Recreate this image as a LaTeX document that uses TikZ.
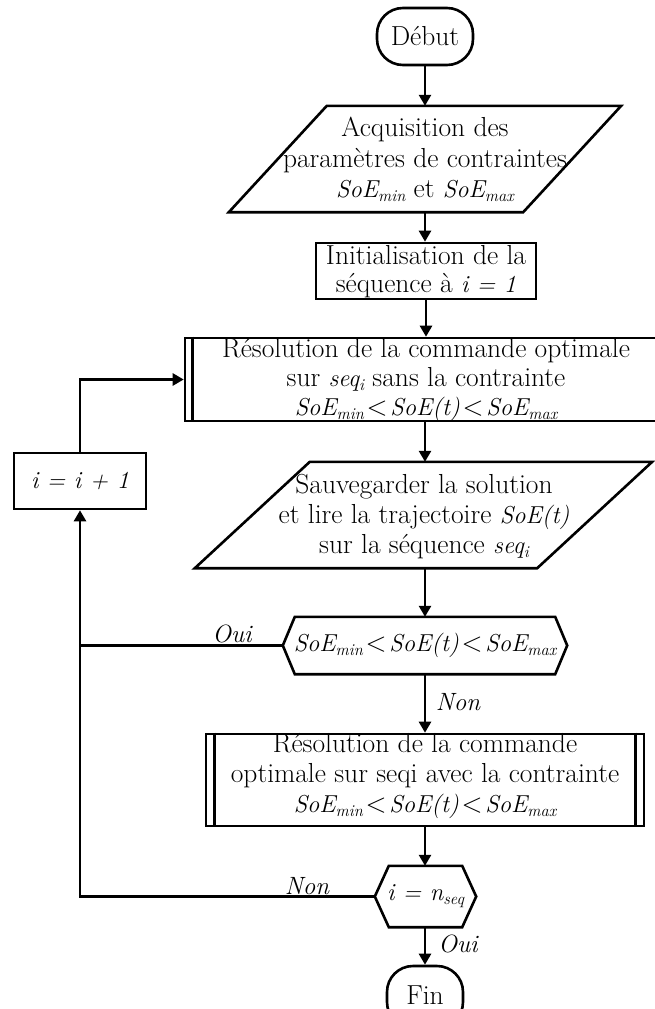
\documentclass[tikz,border=0pt]{standalone}
\usetikzlibrary{arrows.meta,calc}
\newcommand\fm[1]{{\fontsize{24.5}{24.5}\selectfont\itshape #1}}
\newcommand\sbs[1]{\raisebox{-4pt}{\fontsize{16.5}{16.5}\selectfont\itshape #1}}
\newcommand\LT{\hspace{0.1em}<\hspace{0.1em}}
\newcommand\SoEmin{\fm{SoE}\sbs{min}}
\newcommand\SoEmax{\fm{SoE}\sbs{max}}
\tikzset{
  ln/.style={line width=2.6pt},
  arr/.style={ln,-{Triangle[length=11pt,width=12pt]}},
  shp/.style={draw,line width=2.6pt,inner sep=0pt},
  anc/.style={inner sep=0pt},
  txt/.style={align=center,inner sep=0pt},
  lbl/.style={inner sep=0pt,anchor=base,font=\fontsize{25}{30}\selectfont\itshape},
}
\begin{document}
\begin{tikzpicture}[x=1pt,y=-1pt,font=\fontsize{27.5}{30}\selectfont]
\fill[white] (0,0) rectangle (655,1009);
\useasboundingbox (0,0) rectangle (655,1009);

% Debut
\node[shp,rounded corners=26pt,minimum width=96pt,minimum height=57pt] (debut) at (425,36.5) {Début};

% Parallelogram 1
\node[anc,minimum width=392pt,minimum height=106pt] (p1) at (425,159) {};
\draw[ln] (p1.south west) -- ($(p1.north west)+(98,0)$) -- (p1.north east) -- ($(p1.south east)-(98,0)$) -- cycle;
\node[txt,font=\fontsize{27.5}{30.5}\selectfont] (p1t) at (425,159.7) {Acquisition des\\paramètres de contraintes\\\SoEmin{} et \SoEmax};

% Init
\node[shp,minimum width=220pt,minimum height=56pt] (init) at (426,271) {};
\node[txt,font=\fontsize{27.5}{28}\selectfont] (initt) at (426,272.1) {Initialisation de la\\séquence à \fm{i = 1}};

% Resolution 1
\node[shp,minimum width=480pt,minimum height=83pt] (r1) at (425,379.5) {};
\draw[ln] ($(r1.north west)+(9,0)$) -- ($(r1.south west)+(9,0)$);
\draw[ln] ($(r1.north east)-(9,0)$) -- ($(r1.south east)-(9,0)$);
\node[txt,font=\fontsize{27.5}{29}\selectfont] (r1t) at (426,380.2) {Résolution de la commande optimale\\sur \fm{seq}\sbs{i} sans la contrainte\\\SoEmin\LT\fm{SoE(t)}\LT\SoEmax};

% i = i + 1
\node[shp,minimum width=132pt,minimum height=56pt] (inc) at (80,481) {\fm{i = i + 1}};

% Parallelogram 2
\node[anc,minimum width=457pt,minimum height=106pt] (p2) at (423.5,515) {};
\draw[ln] (p2.south west) -- ($(p2.north west)+(115,0)$) -- (p2.north east) -- ($(p2.south east)-(115,0)$) -- cycle;
\node[txt,font=\fontsize{27.5}{30}\selectfont] (p2t) at (424,516.1) {Sauvegarder la solution\\et lire la trajectoire \fm{SoE(t)}\\sur la séquence \fm{seq}\sbs{i}};

% Hexagon 1
\node[anc,minimum width=284pt,minimum height=57pt] (h1) at (425,645.5) {\SoEmin\LT\fm{SoE(t)}\LT\SoEmax};
\draw[ln] (h1.west) -- ($(h1.north west)+(12,0)$) -- ($(h1.north east)-(12,0)$) -- (h1.east) -- ($(h1.south east)-(12,0)$) -- ($(h1.south west)+(12,0)$) -- cycle;

% Resolution 2
\node[shp,minimum width=438pt,minimum height=92pt] (r2) at (425,780) {};
\draw[ln] ($(r2.north west)+(10,0)$) -- ($(r2.south west)+(10,0)$);
\draw[ln] ($(r2.north east)-(10,0)$) -- ($(r2.south east)-(10,0)$);
\node[txt,font=\fontsize{27.5}{30}\selectfont] (r2t) at (425,776.2) {Résolution de la commande\\optimale sur seqi avec la contrainte\\\SoEmin\LT\fm{SoE(t)}\LT\SoEmax};

% Hexagon 2
\node[anc,minimum width=101pt,minimum height=61pt] (h2) at (425.5,896.5) {\fm{i = n}\sbs{seq}};
\draw[ln] (h2.west) -- ($(h2.north west)+(14,0)$) -- ($(h2.north east)-(14,0)$) -- (h2.east) -- ($(h2.south east)-(14,0)$) -- ($(h2.south west)+(14,0)$) -- cycle;

% Fin
\node[shp,rounded corners=26pt,minimum width=76pt,minimum height=62pt] (fin) at (425,997) {};
\node[txt] (fint) at (425,995.5) {Fin};

% Connectors
\draw[arr] (debut.south) -- (debut.south |- p1.north);
\draw[arr] (p1.south) -- (p1.south |- init.north);
\draw[arr] (init.south) -- (init.south |- r1.north);
\draw[arr] (r1.south) -- (r1.south |- p2.north);
\draw[arr] (r1.south |- p2.south) -- (r1.south |- h1.north);
\draw[arr] (h1.south) -- (h1.south |- r2.north);
\draw[arr] (r2.south) -- (r2.south |- h2.north);
\draw[arr] (r2.south |- h2.south) -- (r2.south |- fin.north);
\draw[ln] (h1.west) -- (h1.west -| inc.south);
\draw[arr] (h2.west) -| (inc.south);
\draw[arr] (inc.north) |- (r1.west);

% Labels
\node[lbl] (oui1) at (232,642) {Oui};
\node[lbl] (non1) at (458,710) {Non};
\node[lbl] (non2) at (307,894) {Non};
\node[lbl] (oui2) at (458,952) {Oui};
\end{tikzpicture}
\end{document}
